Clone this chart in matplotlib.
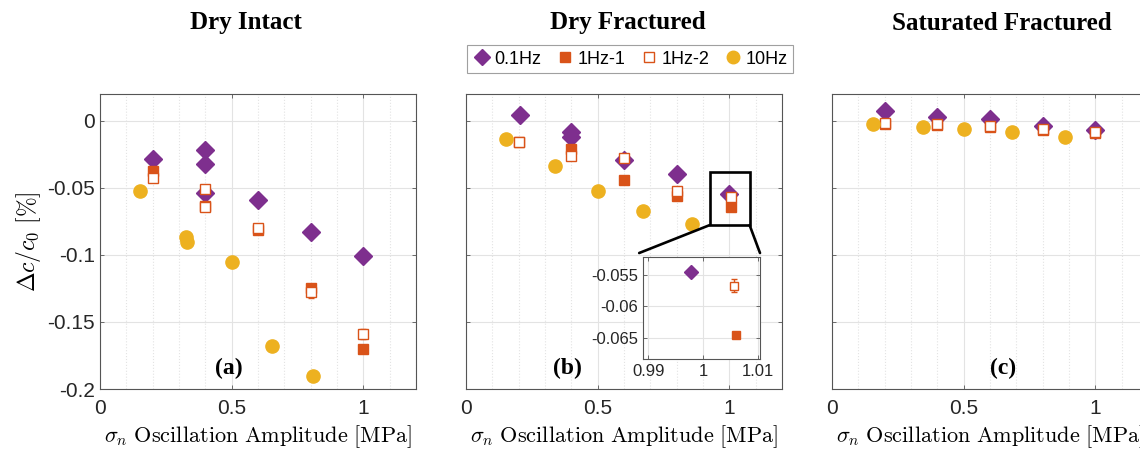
import numpy as np
import matplotlib
matplotlib.use("Agg")
import matplotlib.pyplot as plt
from matplotlib.patches import Rectangle, ConnectionPatch
from matplotlib.ticker import MultipleLocator, FuncFormatter

plt.rcParams['mathtext.fontset'] = 'cm'
plt.rcParams['font.family'] = 'Liberation Sans'

# colours (MATLAB defaults)
c_purple = '#7E2F8E'
c_orange = '#D95319'
c_yellow = '#EDB120'

titles = ['Dry Intact', 'Dry Fractured', 'Saturated Fractured']
panel_tags = ['(a)', '(b)', '(c)']
tag_x = [0.49, 0.385, 0.65]

# --- Dry Intact ---
a_x01 = [0.2, 0.4, 0.4, 0.4, 0.6, 0.8, 1.0]
a_y01 = [-0.0284, -0.0217, -0.032, -0.054, -0.0588, -0.083, -0.1007]
a_x1a = [0.2, 0.4, 0.6, 0.8, 1.0]
a_y1a = [-0.0375, -0.0637, -0.0815, -0.1247, -0.170]
a_e1a = [0.0015, 0.0015, 0.0015, 0.002, 0.002]
a_x1b = [0.2, 0.4, 0.4, 0.6, 0.8, 1.0]
a_y1b = [-0.0425, -0.0511, -0.064, -0.080, -0.128, -0.159]
a_e1b = [0.0012, 0.0015, 0.0015, 0.0015, 0.004, 0.004]
a_x10 = [0.15, 0.327, 0.33, 0.5, 0.655, 0.81]
a_y10 = [-0.0523, -0.0864, -0.090, -0.105, -0.168, -0.190]

# --- Dry Fractured ---
b_x01 = [0.206, 0.4, 0.4, 0.6, 0.8, 0.9978]
b_y01 = [0.0042, -0.0087, -0.0124, -0.029, -0.040, -0.0546]
b_x1a = [0.2, 0.4, 0.6, 0.8, 1.006]
b_y1a = [-0.016, -0.021, -0.044, -0.0563, -0.0645]
b_e1a = [0.001, 0.001, 0.001, 0.001, 0.0004]
b_x1b = [0.2, 0.4, 0.6, 0.8, 1.0056]
b_y1b = [-0.0156, -0.026, -0.0276, -0.052, -0.0567]
b_e1b = [0.001, 0.0012, 0.001, 0.0012, 0.0011]
b_x10 = [0.152, 0.339, 0.5, 0.674, 0.858]
b_y10 = [-0.0138, -0.0336, -0.0523, -0.0674, -0.0773]

# --- Saturated Fractured ---
c_x01 = [0.2, 0.4, 0.6, 0.8, 1.0]
c_y01 = [0.007, 0.0027, 0.0013, -0.004, -0.007]
c_x1a = [0.2, 0.4, 0.6, 0.8, 1.0]
c_y1a = [-0.002, -0.003, -0.0045, -0.0065, -0.009]
c_e1a = [0.001, 0.001, 0.001, 0.001, 0.001]
c_x1b = [0.2, 0.4, 0.6, 0.8, 1.0]
c_y1b = [-0.0017, -0.0025, -0.0042, -0.006, -0.008]
c_e1b = [0.001, 0.001, 0.001, 0.001, 0.001]
c_x10 = [0.155, 0.345, 0.503, 0.684, 0.885]
c_y10 = [-0.0022, -0.0047, -0.0062, -0.0087, -0.0124]

panels = [
    (a_x01, a_y01, a_x1a, a_y1a, a_e1a, a_x1b, a_y1b, a_e1b, a_x10, a_y10),
    (b_x01, b_y01, b_x1a, b_y1a, b_e1a, b_x1b, b_y1b, b_e1b, b_x10, b_y10),
    (c_x01, c_y01, c_x1a, c_y1a, c_e1a, c_x1b, c_y1b, c_e1b, c_x10, c_y10),
]

# zoom window shown in the inset of (b)
zoom_x = (0.925, 1.077)
zoom_y = (-0.0778, -0.0383)
inset_xlim = (0.989, 1.0103)
inset_ylim = (-0.0684, -0.0521)

W, H = 1140, 451
fig = plt.figure(figsize=(W / 100, H / 100), dpi=100)

lefts = [100, 466, 832]
ax_w, ax_top, ax_bot = 316, 94, 389
title_cx = [246, 628, 1002]
fmt_g = FuncFormatter(lambda v, p: f'{v:g}')


def style_axes(ax, fs=15):
    for s in ax.spines.values():
        s.set_color('#555555')
        s.set_linewidth(0.8)
    ax.tick_params(which='both', direction='in', top=True, right=True,
                   colors='#555555', labelcolor='#262626', labelsize=fs,
                   length=3, width=0.6)
    ax.tick_params(which='minor', length=0)
    ax.set_axisbelow(True)


def draw_series(ax, d, ms=1.0):
    x01, y01, x1a, y1a, e1a, x1b, y1b, e1b, x10, y10 = d
    ax.plot(x01, y01, 'D', color=c_purple, ms=9 * ms, mec=c_purple, ls='none')
    ax.errorbar(x1a, y1a, yerr=e1a, fmt='s', color=c_orange, ms=7.5 * ms,
                mec=c_orange, mfc=c_orange, ecolor=c_orange, elinewidth=1,
                capsize=2, zorder=3)
    ax.errorbar(x1b, y1b, yerr=e1b, fmt='s', color=c_orange, ms=7.5 * ms,
                mec=c_orange, mfc='white', mew=1.0, ecolor=c_orange,
                elinewidth=1, capsize=2, zorder=3.5)
    ax.plot(x10, y10, 'o', color=c_yellow, ms=9.5 * ms, ls='none', zorder=4)


axes = []
for i in range(3):
    ax = fig.add_axes([lefts[i] / W, (H - ax_bot) / H,
                       ax_w / W, (ax_bot - ax_top) / H])
    axes.append(ax)
    style_axes(ax)
    ax.tick_params(axis='x', pad=7)
    draw_series(ax, panels[i])
    ax.set_xlim(0, 1.2)
    ax.set_ylim(-0.2, 0.02)
    ax.xaxis.set_major_locator(MultipleLocator(0.5))
    ax.xaxis.set_minor_locator(MultipleLocator(0.1))
    ax.yaxis.set_major_locator(MultipleLocator(0.05))
    ax.grid(True, which='major', color='#e3e3e3', lw=0.8)
    ax.grid(True, which='minor', axis='x', color='#e3e3e3', lw=0.8, ls=':')
    ax.xaxis.set_major_formatter(fmt_g)
    if i == 0:
        ax.yaxis.set_major_formatter(fmt_g)
        ax.set_ylabel(r'$\Delta c/c_0\ [\%]$', fontsize=17, labelpad=3)
    else:
        ax.tick_params(labelleft=False)
    ax.set_xlabel(r'$\sigma_n\ \mathrm{Oscillation\ Amplitude\ [MPa]}$',
                  fontsize=16, labelpad=4)
    ax.text(tag_x[i], -0.185, panel_tags[i], fontsize=17, fontweight='bold',
            family='Liberation Serif', ha='center', va='center')
    fig.text(title_cx[i] / W, 1 - 23 / H, titles[i], fontsize=18,
             fontweight='bold', family='Liberation Serif',
             ha='center', va='center')

# zoom box and inset on (b)
axb = axes[1]
axb.add_patch(Rectangle((zoom_x[0], zoom_y[0]), zoom_x[1] - zoom_x[0],
                        zoom_y[1] - zoom_y[0], fill=False, ec='black',
                        lw=1.9, zorder=6))

ins = fig.add_axes([642.7 / W, (H - 359) / H, 117.3 / W, 102.3 / H])
style_axes(ins, fs=12)
draw_series(ins, panels[1], ms=0.8)
ins.set_xlim(*inset_xlim)
ins.set_ylim(*inset_ylim)
ins.set_xticks([0.99, 1.0, 1.01])
ins.set_yticks([-0.065, -0.06, -0.055])
ins.xaxis.set_major_formatter(fmt_g)
ins.yaxis.set_major_formatter(fmt_g)
ins.grid(True, color='#e3e3e3', lw=0.8)

for xa, xb in [(zoom_x[0], -0.03), (zoom_x[1], 1.0)]:
    con = ConnectionPatch(xyA=(xa, zoom_y[0]), coordsA=axb.transData,
                          xyB=(xb, 1.036), coordsB=ins.transAxes,
                          color='black', lw=1.9)
    fig.add_artist(con)

# legend above (b)
handles = [
    plt.Line2D([], [], marker='D', color=c_purple, ls='none', ms=8),
    plt.Line2D([], [], marker='s', color=c_orange, ls='none', ms=7),
    plt.Line2D([], [], marker='s', mfc='white', mec=c_orange, ls='none',
               ms=7, mew=1.0),
    plt.Line2D([], [], marker='o', color=c_yellow, ls='none', ms=9),
]
leg = fig.legend(handles, ['0.1Hz', '1Hz-1', '1Hz-2', '10Hz'], ncol=4,
                 loc='center', bbox_to_anchor=(630 / W, 1 - 59 / H),
                 fontsize=13, frameon=True, fancybox=False,
                 handletextpad=0.2, columnspacing=0.8, handlelength=1.0,
                 borderpad=0.3, borderaxespad=0)
leg.get_frame().set_edgecolor('#888888')
leg.get_frame().set_linewidth(0.8)

fig.savefig('out.png', dpi=100)
